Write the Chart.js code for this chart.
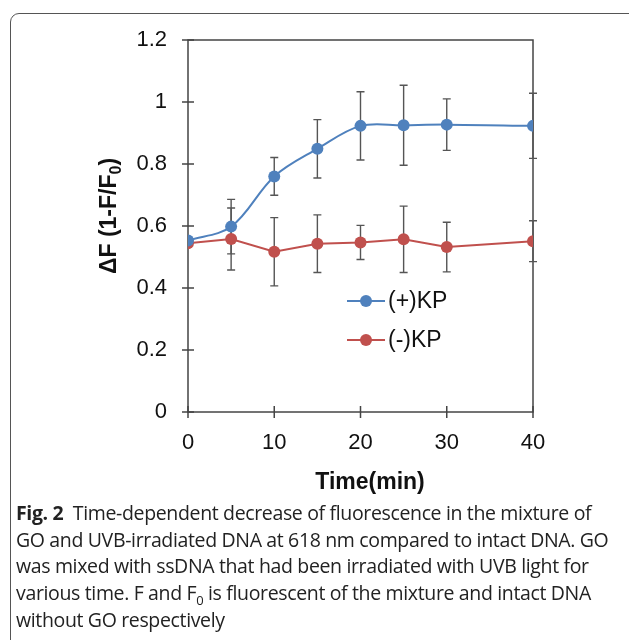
<!DOCTYPE html>
<html lang="en">
<head>
    <meta charset="UTF-8">
    <title>Fig. 2</title>
    <script src="https://cdn.jsdelivr.net/npm/chart.js@4.4.0/dist/chart.umd.min.js"></script>
    <style>
        html, body { margin: 0; padding: 0; background: #fff; overflow: hidden; }
        #frame {
            position: absolute; left: 10px; top: 13px; width: 640px; height: 660px;
            border: 1.5px solid #555; border-radius: 9px; box-sizing: border-box;
        }
        #wrap { position: absolute; left: 0; top: 0; width: 629px; height: 500px; }
        #caption {
            position: absolute; left: 16px; top: 500px; width: 610px;
            font-family: "Open Sans", sans-serif; font-size: 19.5px; line-height: 26.7px;
            color: #222; letter-spacing: -0.35px; white-space: nowrap;
        }
        #caption b { font-weight: 700; }
        #caption .sub { font-size: 13px; position: relative; top: 5px; line-height: 0; }
    </style>
</head>
<body>
    <div id="frame"></div>
    <div id="wrap"><canvas id="chart" width="629" height="500"></canvas></div>
    <div id="caption">
        <b>Fig. 2</b>&nbsp; Time-dependent decrease of fluorescence in the mixture of<br>
        GO and UVB-irradiated DNA at 618 nm compared to intact DNA. GO<br>
        was mixed with ssDNA that had been irradiated with UVB light for<br>
        various time. F and F<span class="sub">0</span> is fluorescent of the mixture and intact DNA<br>
        without GO respectively
    </div>
    <script>
        // data
        const times = [0, 5, 10, 15, 20, 25, 30, 40];
        const plusKP = [0.553, 0.598, 0.760, 0.849, 0.923, 0.925, 0.927, 0.923];
        const plusErr = [0, 0.088, 0.061, 0.094, 0.110, 0.129, 0.083, 0.105];
        const minusKP = [0.544, 0.558, 0.517, 0.543, 0.547, 0.557, 0.532, 0.551];
        const minusErr = [0, 0.100, 0.110, 0.093, 0.055, 0.107, 0.080, 0.066];
        const seriesNames = ['(+)KP', '(-)KP'];
        const xTicks = [0, 10, 20, 30, 40];
        const yTicks = [0, 0.2, 0.4, 0.6, 0.8, 1, 1.2];

        const blue = '#4F81BD';
        const red = '#C0504D';
        const axisFont = '23px "Liberation Sans", Arial, sans-serif';
        const titleFont = 'bold 23px "Liberation Sans", Arial, sans-serif';
        const subFont = 'bold 16px "Liberation Sans", Arial, sans-serif';

        const toPoints = (vals) => vals.map((v, i) => ({ x: times[i], y: v }));

        // box, cross ticks, error bars, legend and axis titles
        const decorations = {
            id: 'decorations',
            beforeDatasetsDraw(chart) {
                const ctx = chart.ctx;
                const xs = chart.scales.x, ys = chart.scales.y;
                const a = chart.chartArea;
                ctx.save();
                ctx.strokeStyle = '#444';
                ctx.lineWidth = 1.5;
                ctx.strokeRect(a.left, a.top, a.right - a.left, a.bottom - a.top);
                ctx.beginPath();
                xTicks.forEach(t => {
                    const px = xs.getPixelForValue(t);
                    ctx.moveTo(px, a.bottom - 6); ctx.lineTo(px, a.bottom + 6);
                });
                yTicks.forEach(t => {
                    const py = ys.getPixelForValue(t);
                    ctx.moveTo(a.left - 6, py); ctx.lineTo(a.left + 6, py);
                });
                ctx.stroke();

                // error bars
                ctx.strokeStyle = '#555';
                ctx.lineWidth = 1.4;
                [[plusKP, plusErr], [minusKP, minusErr]].forEach(([vals, errs]) => {
                    vals.forEach((v, i) => {
                        if (!errs[i]) return;
                        const px = xs.getPixelForValue(times[i]);
                        const top = ys.getPixelForValue(v + errs[i]);
                        const bot = ys.getPixelForValue(v - errs[i]);
                        ctx.beginPath();
                        ctx.moveTo(px, top); ctx.lineTo(px, bot);
                        ctx.moveTo(px - 4, top); ctx.lineTo(px + 4, top);
                        ctx.moveTo(px - 4, bot); ctx.lineTo(px + 4, bot);
                        ctx.stroke();
                    });
                });
                ctx.restore();
            },
            afterDraw(chart) {
                const ctx = chart.ctx;
                ctx.save();
                // legend
                const rows = [[seriesNames[0], blue, 301], [seriesNames[1], red, 340]];
                rows.forEach(([name, col, y]) => {
                    ctx.strokeStyle = col;
                    ctx.lineWidth = 2;
                    ctx.beginPath(); ctx.moveTo(347, y); ctx.lineTo(385, y); ctx.stroke();
                    ctx.fillStyle = col;
                    ctx.beginPath(); ctx.arc(366, y, 6, 0, Math.PI * 2); ctx.fill();
                    ctx.fillStyle = '#111';
                    ctx.font = axisFont;
                    ctx.textBaseline = 'middle';
                    ctx.textAlign = 'left';
                    ctx.fillText(name, 388, y + 1);
                });

                // x title
                ctx.font = titleFont;
                ctx.textAlign = 'center';
                ctx.textBaseline = 'alphabetic';
                ctx.fillText('Time(min)', 370, 489);

                // y title with subscript
                ctx.translate(116, 216);
                ctx.rotate(-Math.PI / 2);
                const main = '\u0394F (1-F/F';
                const sub = '0';
                const tail = ')';
                ctx.font = titleFont;
                const w1 = ctx.measureText(main).width;
                const w3 = ctx.measureText(tail).width;
                ctx.font = subFont;
                const w2 = ctx.measureText(sub).width;
                let x0 = -(w1 + w2 + w3) / 2;
                ctx.textAlign = 'left';
                ctx.font = titleFont;
                ctx.fillText(main, x0, 0);
                ctx.font = subFont;
                ctx.fillText(sub, x0 + w1, 5);
                ctx.font = titleFont;
                ctx.fillText(tail, x0 + w1 + w2, 0);
                ctx.restore();
            }
        };

        const tickFont = { family: '"Liberation Sans", Arial', size: 22 };

        new Chart(document.getElementById('chart'), {
            type: 'line',
            data: {
                datasets: [{
                    label: seriesNames[0],
                    data: toPoints(plusKP),
                    borderColor: blue,
                    backgroundColor: blue,
                    borderWidth: 2,
                    pointRadius: 6,
                    pointBorderWidth: 0,
                    tension: 0.35
                }, {
                    label: seriesNames[1],
                    data: toPoints(minusKP),
                    borderColor: red,
                    backgroundColor: red,
                    borderWidth: 2,
                    pointRadius: 6,
                    pointBorderWidth: 0,
                    tension: 0
                }]
            },
            options: {
                responsive: false,
                animation: false,
                events: [],
                layout: { padding: { left: 0, top: 40, right: 96, bottom: 0 } },
                plugins: { legend: { display: false }, tooltip: { enabled: false } },
                scales: {
                    x: {
                        type: 'linear', min: 0, max: 40,
                        afterBuildTicks: (s) => { s.ticks = xTicks.map(v => ({ value: v })); },
                        afterFit: (s) => { s.height = 88; },
                        grid: { display: false, drawTicks: false },
                        border: { display: false },
                        ticks: { font: tickFont, color: '#111', padding: 18, maxRotation: 0 }
                    },
                    y: {
                        min: 0, max: 1.2,
                        afterBuildTicks: (s) => { s.ticks = yTicks.map(v => ({ value: v })); },
                        afterFit: (s) => { s.width = 188; },
                        grid: { display: false, drawTicks: false },
                        border: { display: false },
                        ticks: {
                            font: tickFont, color: '#111', padding: 21,
                            callback: (v) => String(Number(v.toFixed(1)))
                        }
                    }
                }
            },
            plugins: [decorations]
        });
    </script>
</body>
</html>
